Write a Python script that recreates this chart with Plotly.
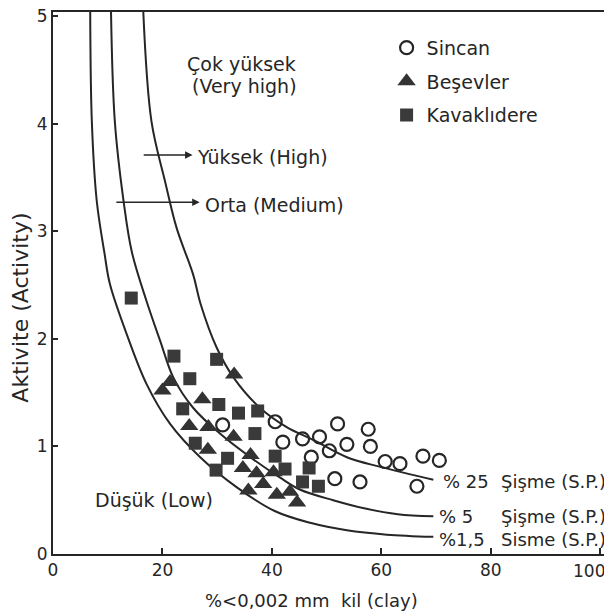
import plotly.graph_objects as go

# ---- data ----
sincan_x = [31.0, 40.6, 42.0, 45.6, 48.7, 52.0, 50.5, 53.7, 57.6, 58.0, 47.2, 51.5, 56.1, 60.7, 63.4, 67.6, 70.6, 66.5]
sincan_y = [1.20, 1.23, 1.04, 1.07, 1.09, 1.21, 0.96, 1.02, 1.16, 1.00, 0.90, 0.70, 0.67, 0.86, 0.84, 0.91, 0.87, 0.63]

besevler_x = [33.1, 21.4, 20.0, 27.3, 24.9, 28.4, 28.3, 33.0, 36.1, 34.7, 37.2, 35.7, 38.4, 40.3, 40.9, 43.3, 44.6]
besevler_y = [1.67, 1.60, 1.52, 1.44, 1.19, 1.18, 0.97, 1.09, 0.92, 0.80, 0.75, 0.59, 0.65, 0.76, 0.55, 0.58, 0.48]

kavak_x = [14.3, 22.1, 29.9, 25.0, 30.3, 23.7, 33.9, 37.4, 36.9, 26.0, 31.9, 29.8, 40.6, 42.4, 46.8, 45.6, 48.5]
kavak_y = [2.38, 1.84, 1.81, 1.63, 1.39, 1.35, 1.31, 1.33, 1.12, 1.03, 0.89, 0.78, 0.91, 0.79, 0.80, 0.67, 0.63]

# swell-potential boundary curves
c15_x = [6.8, 7.1, 8.0, 9.4, 10.4, 13.5, 17.1, 21.4, 26.9, 33.6, 40.5, 47.0, 53.7, 61.0, 69.5]
c15_y = [5.04, 4.02, 3.28, 2.80, 2.51, 2.04, 1.58, 1.21, 0.90, 0.62, 0.40, 0.29, 0.22, 0.18, 0.16]

c5_x = [10.6, 11.3, 12.9, 14.4, 17.1, 19.6, 22.0, 25.6, 30.5, 36.6, 41.5, 45.1, 51.2, 57.3, 63.0, 69.5]
c5_y = [5.04, 4.02, 3.28, 2.81, 2.35, 1.98, 1.64, 1.36, 1.12, 0.88, 0.71, 0.60, 0.50, 0.42, 0.37, 0.35]

c25_x = [16.5, 18.0, 20.5, 22.6, 25.6, 27.0, 29.9, 33.0, 37.8, 42.7, 47.6, 53.7, 59.8, 69.5]
c25_y = [5.04, 4.02, 3.46, 3.03, 2.60, 2.32, 1.92, 1.64, 1.36, 1.18, 1.06, 0.90, 0.81, 0.69]

x_ticks = [0, 20, 40, 60, 80, 100]
x_ticktext = ["0", "20", "40", "60", "80", ""]   # "100" drawn below, nudged inside the page edge
x_last_tick = 100
x_last_label = "100"
y_ticks = [0, 1, 2, 3, 4, 5]

INK = "#262626"
FONT = "DejaVu Sans"

fig = go.Figure()

for cx, cy in [(c15_x, c15_y), (c5_x, c5_y), (c25_x, c25_y)]:
    fig.add_trace(go.Scatter(x=cx, y=cy, mode="lines", showlegend=False,
                             line=dict(color=INK, width=2, shape="spline", smoothing=1.0),
                             hoverinfo="skip"))

fig.add_trace(go.Scatter(x=sincan_x, y=sincan_y, mode="markers", name="Sincan",
                         legendgroup="a",
                         marker=dict(symbol="circle-open", size=13, color=INK,
                                     line=dict(width=2.2, color=INK))))
fig.add_trace(go.Scatter(x=besevler_x, y=besevler_y, mode="markers", name="Beşevler",
                         legendgroup="b",
                         marker=dict(symbol="triangle-up", size=16, color="#333333")))
fig.add_trace(go.Scatter(x=kavak_x, y=kavak_y, mode="markers", name="Kavaklıdere",
                         legendgroup="c",
                         marker=dict(symbol="square", size=13, color="#3a3a3a")))

ann_font = dict(family=FONT, size=19, color=INK)
lab_font = dict(family=FONT, size=18, color=INK)
texts = [
    (24.1, 4.56, "Çok yüksek", ann_font),
    (25.0, 4.35, "(Very high)", ann_font),
    (26.0, 3.69, "Yüksek (High)", ann_font),
    (27.4, 3.25, "Orta (Medium)", ann_font),
    (7.3, 0.50, "Düşük (Low)", ann_font),
    (70.9, 0.67, "% 25", lab_font),
    (70.2, 0.345, "% 5", lab_font),
    (70.2, 0.136, "%1,5", lab_font),
    (81.5, 0.67, "Şişme (S.P.)", lab_font),
    (81.5, 0.345, "Şişme (S.P.)", lab_font),
    (81.5, 0.136, "Sisme (S.P.)", lab_font),
]
annotations = [dict(x=x, y=y, text=t, showarrow=False, xanchor="left", yanchor="middle",
                    font=f, xref="x", yref="y") for x, y, t, f in texts]

# last x tick label, nudged left so it stays on the page
annotations.append(dict(x=x_last_tick, y=0, xref="x", yref="y", text=x_last_label,
                        showarrow=False, xanchor="center", yanchor="top",
                        xshift=-11, yshift=-5, font=dict(family=FONT, size=17, color=INK)))

# pointer arrows for Yüksek / Orta
for tail, head, yy in [(16.3, 25.5, 3.71), (11.3, 26.8, 3.27)]:
    annotations.append(dict(x=head, y=yy, ax=tail, ay=yy, xref="x", yref="y",
                            axref="x", ayref="y", text="", showarrow=True,
                            arrowhead=2, arrowsize=1, arrowwidth=1.5, arrowcolor=INK))

# axis titles
annotations.append(dict(x=(311 - 53) / 556, y=-0.085, xref="paper", yref="paper",
                        text="%<0,002 mm  kil (clay)", showarrow=False,
                        font=dict(family=FONT, size=18, color=INK), yanchor="middle"))
annotations.append(dict(x=-0.058, y=(554 - 307) / 544, xref="paper", yref="paper",
                        text="Aktivite (Activity)", showarrow=False, textangle=-90,
                        font=dict(family=FONT, size=22, color=INK), xanchor="center"))

# page body has an 8px margin, so the figure is sized/margined to land on the reference
fig.update_layout(
    width=604, height=608,
    margin=dict(l=45, r=3, t=4, b=62, autoexpand=False),
    paper_bgcolor="white", plot_bgcolor="white",
    font=dict(family=FONT, size=17, color=INK),
    annotations=annotations,
    legend=dict(x=0.60, y=0.969, xanchor="left", yanchor="top",
                bgcolor="rgba(0,0,0,0)", font=dict(family=FONT, size=19, color=INK),
                tracegroupgap=6),
)
fig.update_xaxes(range=[0, 101.6], tickvals=x_ticks, ticktext=x_ticktext,
                 showgrid=False, zeroline=False,
                 showline=True, linecolor=INK, linewidth=2, mirror=True, automargin=False,
                 ticks="inside", ticklen=6, tickcolor=INK, tickwidth=1.5,
                 ticklabeloverflow="allow",
                 tickfont=dict(family=FONT, size=17, color=INK))
fig.update_yaxes(range=[0, 5.04], tickvals=y_ticks, showgrid=False, zeroline=False,
                 showline=True, linecolor=INK, linewidth=2, mirror=True, automargin=False,
                 ticks="inside", ticklen=5, tickcolor=INK, tickwidth=1.5,
                 ticklabeloverflow="allow",
                 tickfont=dict(family=FONT, size=17, color=INK))

fig.write_html("out.html")
